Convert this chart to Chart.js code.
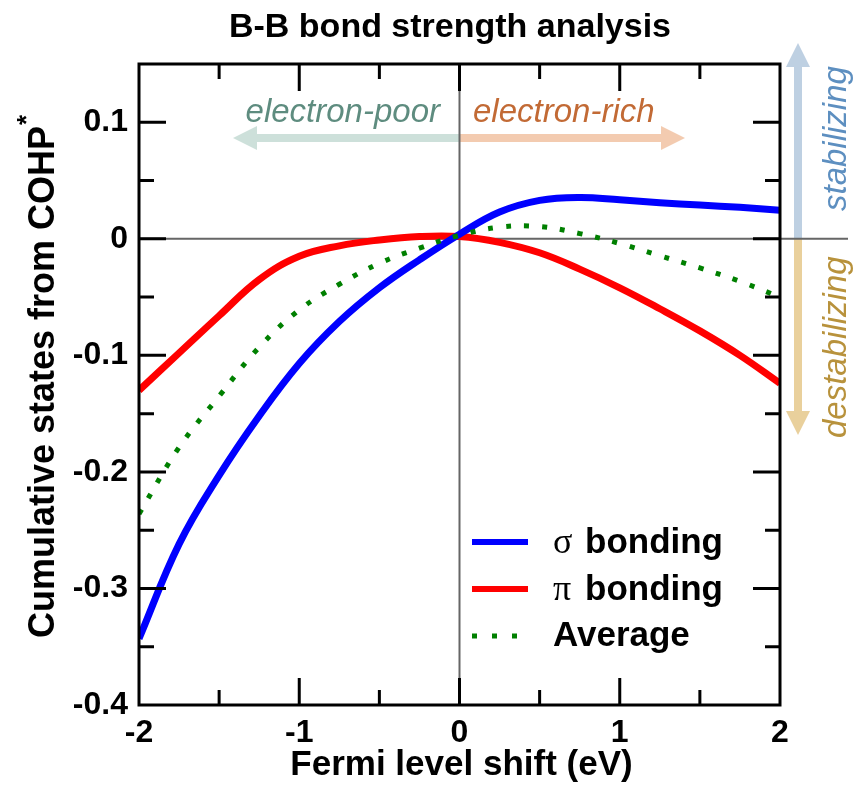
<!DOCTYPE html>
<html>
<head>
<meta charset="utf-8">
<title>B-B bond strength analysis</title>
<script src="https://cdn.jsdelivr.net/npm/chart.js@4.4.1/dist/chart.umd.min.js"></script>
<style>
  html, body { margin: 0; padding: 0; background: #fff; }
  canvas { display: block; }
</style>
</head>
<body>
<canvas id="cohp" width="864" height="792"></canvas>
<script>
// Fermi level shift (eV)
const shift = [-2, -1.75, -1.5, -1.25, -1, -0.75, -0.5, -0.25, 0, 0.25, 0.5, 0.75, 1, 1.25, 1.5, 1.75, 2];

// Cumulative states from COHP*
const sigmaBonding = [-0.343, -0.262, -0.203, -0.152, -0.107, -0.071, -0.042, -0.018, 0.004, 0.023, 0.033, 0.0355, 0.0335, 0.031, 0.029, 0.027, 0.0245];
const piBonding = [-0.130, -0.098, -0.066, -0.035, -0.015, -0.006, -0.001, 0.002, 0.002, -0.003, -0.012, -0.026, -0.042, -0.060, -0.079, -0.100, -0.124];
const average = [-0.236, -0.179, -0.135, -0.093, -0.061, -0.039, -0.021, -0.008, 0.003, 0.010, 0.0105, 0.0045, -0.004, -0.0145, -0.025, -0.0365, -0.050];

const seriesNames = ['σ bonding', 'π bonding', 'Average'];

const xTickValues = [-2, -1, 0, 1, 2];
const xTickLabels = ['-2', '-1', '0', '1', '2'];
const xMinorTicks = [-1.5, -0.5, 0.5, 1.5];
const yTickValues = [-0.4, -0.3, -0.2, -0.1, 0, 0.1];
const yTickLabels = ['-0.4', '-0.3', '-0.2', '-0.1', '0', '0.1'];
const yMinorTicks = [-0.35, -0.25, -0.15, -0.05, 0.05];

const SANS = '"Liberation Sans", Arial, Helvetica, sans-serif';
const SERIF = '"Liberation Serif", "Times New Roman", serif';

function points(ys) {
  return shift.map((x, i) => ({ x: x, y: ys[i] }));
}

function drawArrow(ctx, x0, y0, x1, y1, shaft, headLen, headHalf, color) {
  const len = Math.hypot(x1 - x0, y1 - y0);
  ctx.save();
  ctx.translate(x0, y0);
  ctx.rotate(Math.atan2(y1 - y0, x1 - x0));
  ctx.fillStyle = color;
  ctx.fillRect(0, -shaft / 2, len - headLen, shaft);
  ctx.beginPath();
  ctx.moveTo(len, 0);
  ctx.lineTo(len - headLen, -headHalf);
  ctx.lineTo(len - headLen, headHalf);
  ctx.closePath();
  ctx.fill();
  ctx.restore();
}

// arrows and zero lines behind the curves
const backdrop = {
  id: 'backdrop',
  beforeDatasetsDraw(chart) {
    const { ctx, chartArea: a, scales: { x, y } } = chart;
    const x0 = x.getPixelForValue(0);
    const y0 = y.getPixelForValue(0);

    drawArrow(ctx, x0, 138, 233, 138, 8, 24, 12, '#cde0da');
    drawArrow(ctx, x0, 138, 685, 138, 8, 24, 12, '#f3cbb0');
    drawArrow(ctx, 798, y0, 798, 43, 8, 24, 12, '#bed0e2');
    drawArrow(ctx, 798, y0, 798, 435, 8, 24, 12, '#e9d09c');

    ctx.save();
    ctx.strokeStyle = '#666';
    ctx.lineWidth = 2;
    ctx.beginPath();
    ctx.moveTo(a.left, y0);
    ctx.lineTo(848, y0);
    ctx.moveTo(x0, a.top);
    ctx.lineTo(x0, a.bottom);
    ctx.stroke();
    ctx.restore();
  }
};

// frame, inward ticks, legend and all labels
const overlay = {
  id: 'overlay',
  afterDatasetsDraw(chart) {
    const { ctx, chartArea: a, scales: { x, y } } = chart;
    ctx.save();

    ctx.strokeStyle = '#000';
    ctx.lineWidth = 3;
    ctx.lineCap = 'butt';
    ctx.beginPath();
    const xt = (v, len) => {
      const px = x.getPixelForValue(v);
      ctx.moveTo(px, a.bottom); ctx.lineTo(px, a.bottom - len);
      ctx.moveTo(px, a.top); ctx.lineTo(px, a.top + len);
    };
    const yt = (v, len) => {
      const py = y.getPixelForValue(v);
      ctx.moveTo(a.left, py); ctx.lineTo(a.left + len, py);
      ctx.moveTo(a.right, py); ctx.lineTo(a.right - len, py);
    };
    xTickValues.slice(1, -1).forEach(v => xt(v, 27));
    xMinorTicks.forEach(v => xt(v, 15));
    yTickValues.slice(1).forEach(v => yt(v, 27));
    yMinorTicks.forEach(v => yt(v, 15));
    ctx.stroke();
    ctx.strokeRect(a.left, a.top, a.right - a.left, a.bottom - a.top);

    // legend
    const rows = [542, 589, 636];
    chart.data.datasets.forEach((ds, i) => {
      const ly = rows[i];
      const dotted = ds.borderDash.length > 0;
      ctx.save();
      ctx.strokeStyle = ds.borderColor;
      ctx.lineWidth = dotted ? 5 : 6;
      ctx.setLineDash(dotted ? [5, 15] : []);
      ctx.beginPath();
      ctx.moveTo(472, ly);
      ctx.lineTo(dotted ? 520 : 528, ly);
      ctx.stroke();
      ctx.restore();

      ctx.fillStyle = '#000';
      ctx.textAlign = 'left';
      ctx.textBaseline = 'alphabetic';
      const label = ds.label;
      const first = label.charCodeAt(0);
      if (first >= 0x370 && first <= 0x3ff) {
        ctx.font = '36px ' + SERIF;
        ctx.fillText(label[0], 553, ly + 11);
        ctx.font = 'bold 35px ' + SANS;
        ctx.fillText(label.slice(2), 585, ly + 11);
      } else {
        ctx.font = 'bold 35px ' + SANS;
        ctx.fillText(label, 553, ly + 10);
      }
    });

    // title and axis titles
    ctx.fillStyle = '#000';
    ctx.font = 'bold 34px ' + SANS;
    ctx.textAlign = 'center';
    ctx.fillText('B-B bond strength analysis', 450, 37);

    ctx.font = 'bold 35px ' + SANS;
    ctx.fillText('Fermi level shift (eV)', (a.left + a.right) / 2 + 2, 775);

    ctx.save();
    ctx.translate(54, 638);
    ctx.rotate(-Math.PI / 2);
    ctx.textAlign = 'left';
    ctx.font = 'bold 36px ' + SANS;
    const main = 'Cumulative states from COHP';
    ctx.fillText(main, 0, 0);
    const w = ctx.measureText(main).width;
    ctx.font = 'bold 26px ' + SANS;
    ctx.fillText('*', w + 1, -19);
    ctx.restore();

    // region labels
    ctx.font = 'italic 33px ' + SANS;
    ctx.textAlign = 'right';
    ctx.fillStyle = '#5e8c7f';
    ctx.fillText('electron-poor', 440, 122);
    ctx.textAlign = 'left';
    ctx.fillStyle = '#c26a35';
    ctx.fillText('electron-rich', 473, 122);

    ctx.font = 'italic 33px ' + SANS;
    ctx.save();
    ctx.translate(846, 211);
    ctx.rotate(-Math.PI / 2);
    ctx.fillStyle = '#5d8fc0';
    ctx.fillText('stabilizing', 0, 0);
    ctx.restore();
    ctx.save();
    ctx.translate(846, 438);
    ctx.rotate(-Math.PI / 2);
    ctx.fillStyle = '#b8923c';
    ctx.fillText('destabilizing', 0, 0);
    ctx.restore();

    ctx.restore();
  }
};

new Chart(document.getElementById('cohp'), {
  type: 'line',
  data: {
    datasets: [
      {
        label: seriesNames[0],
        data: points(sigmaBonding),
        borderColor: '#0000ff',
        borderWidth: 7,
        borderDash: [],
        order: 1
      },
      {
        label: seriesNames[1],
        data: points(piBonding),
        borderColor: '#ff0000',
        borderWidth: 7,
        borderDash: [],
        order: 2
      },
      {
        label: seriesNames[2],
        data: points(average),
        borderColor: '#008000',
        borderWidth: 5,
        borderDash: [5, 13],
        borderCapStyle: 'butt',
        order: 0
      }
    ]
  },
  options: {
    responsive: false,
    animation: false,
    plugins: {
      legend: { display: false },
      title: { display: false },
      tooltip: { enabled: false }
    },
    layout: { padding: { top: 64, right: 84, left: 0, bottom: 0 } },
    elements: {
      point: { radius: 0 },
      line: { tension: 0.4, borderCapStyle: 'butt', borderJoinStyle: 'round' }
    },
    scales: {
      x: {
        type: 'linear',
        min: -2,
        max: 2,
        afterBuildTicks: s => { s.ticks = xTickValues.map(v => ({ value: v })); },
        afterFit: s => { s.height = 87; },
        grid: { display: false, drawTicks: false },
        border: { display: false },
        ticks: {
          autoSkip: false,
          maxRotation: 0,
          padding: 9,
          color: '#000',
          font: { family: SANS, size: 32, weight: 'bold' },
          callback: (v, i) => xTickLabels[i]
        }
      },
      y: {
        type: 'linear',
        min: -0.4,
        max: 0.15,
        afterBuildTicks: s => { s.ticks = yTickValues.map(v => ({ value: v })); },
        afterFit: s => { s.width = 139; },
        grid: { display: false, drawTicks: false },
        border: { display: false },
        ticks: {
          autoSkip: false,
          padding: 11,
          color: '#000',
          font: { family: SANS, size: 32, weight: 'bold' },
          callback: (v, i) => yTickLabels[i]
        }
      }
    }
  },
  plugins: [backdrop, overlay]
});
</script>
</body>
</html>
